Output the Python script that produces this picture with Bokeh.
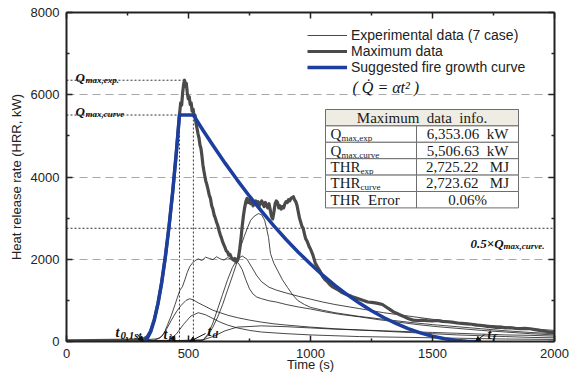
from bokeh.plotting import figure
from bokeh.models import (Legend, LegendItem, LinearAxis, Label, BoxAnnotation,
                          Arrow, NormalHead, FixedTicker)
from bokeh.embed import file_html
from bokeh.resources import INLINE

# ---------------- data ----------------
x_ticks = [0, 500, 1000, 1500, 2000]
x_minor = [250, 750, 1250, 1750]
y_ticks = [0, 2000, 4000, 6000, 8000]
y_minor = [1000, 3000, 5000, 7000]

q_max_exp = 6353.06      # kW
q_max_curve = 5506.63    # kW
thr_exp = 2725.22        # MJ
thr_curve = 2723.62      # MJ
thr_error = 0.06         # %

t_0 = 314     # first ignition (s)
t_1 = 463     # end of growth (s)
t_d = 520     # start of decay (s)
t_f = 1676    # end of decay (s)

# suggested fire growth curve (growth, plateau, decay)
curve_t = [314, 330, 345, 360, 375, 390, 405, 420, 435, 450, 463, 520, 560, 600, 650,
           700, 750, 800, 850, 900, 950, 1000, 1050, 1100, 1150, 1200, 1250, 1300,
           1350, 1400, 1450, 1500, 1550, 1600, 1640, 1676]
curve_q = [0, 63, 238, 525, 923, 1432, 2054, 2787, 3631, 4588, 5506.63, 5506.63, 5132,
           4770, 4337, 3925, 3533, 3162, 2811, 2481, 2172, 1883, 1615, 1367, 1140, 934,
           748, 583, 438, 314, 210, 128, 65, 24, 5, 0]

# maximum case
max_t = [0, 100, 200, 280, 314, 330, 345, 360, 375, 390, 405, 420, 435, 450, 463, 468,
         472, 476, 480, 484, 488, 491, 495, 499, 503, 507, 511, 515, 519, 523, 527, 531,
         535, 539, 543, 547, 551, 555, 559, 563, 567, 571, 575, 580, 585, 590, 595, 600,
         605, 610, 615, 620, 625, 630, 635, 640, 645, 650, 655, 660, 665, 670, 675, 680,
         685, 690, 695, 700, 705, 710, 715, 720, 725, 730, 735, 740, 745, 750, 755, 760,
         765, 770, 775, 780, 785, 790, 795, 800, 805, 810, 815, 820, 825, 830, 835, 840,
         845, 850, 855, 860, 865, 870, 875, 880, 885, 890, 895, 900, 905, 910, 915, 920,
         925, 930, 935, 940, 945, 950, 955, 960, 965, 970, 975, 980, 985, 990, 995, 1000,
         1010, 1020, 1030, 1040, 1050, 1060, 1070, 1080, 1090, 1100, 1115, 1130, 1145,
         1160, 1175, 1190, 1205, 1220, 1235, 1250, 1265, 1280, 1295, 1310, 1325, 1340,
         1355, 1370, 1385, 1400, 1420, 1440, 1460, 1480, 1500, 1520, 1540, 1560, 1580,
         1600, 1620, 1640, 1660, 1680, 1700, 1720, 1740, 1760, 1780, 1800, 1820, 1840,
         1860, 1880, 1900, 1920, 1940, 1960, 1980, 2000]
max_q = [15, 20, 25, 35, 50, 110, 260, 540, 930, 1430, 2050, 2780, 3620, 4580, 5520, 5800,
         5750, 6050, 6250, 6353.06, 6200, 6280, 6050, 5900, 5950, 5760, 5800, 5600, 5650,
         5480, 5500, 5300, 5180, 5050, 4950, 4780, 4700, 4520, 4300, 4150, 4020, 3900,
         3820, 3700, 3560, 3480, 3300, 3220, 3080, 3000, 2900, 2820, 2700, 2600, 2520,
         2420, 2350, 2280, 2200, 2180, 2100, 2120, 2050, 2000, 1980, 2020, 1930, 1960,
         2050, 2250, 2500, 2800, 3050, 3250, 3400, 3480, 3380, 3450, 3350, 3420, 3300,
         3380, 3420, 3340, 3400, 3300, 3360, 3420, 3350, 3280, 3380, 3300, 3250, 3350,
         3200, 3050, 2980, 3150, 3350, 3420, 3380, 3250, 3300, 3220, 3280, 3250, 3350,
         3400, 3380, 3450, 3420, 3480, 3500, 3520, 3440, 3400, 3300, 3150, 3000, 2900,
         2800, 2750, 2620, 2500, 2450, 2380, 2300, 2250, 2100, 1900, 1800, 1700, 1580,
         1500, 1450, 1380, 1330, 1300, 1250, 1190, 1150, 1120, 1080, 1050, 1020, 990,
         960, 950, 940, 920, 900, 840, 780, 720, 680, 640, 600, 560, 520, 510, 520, 505,
         500, 510, 490, 480, 470, 450, 440, 430, 420, 400, 390, 370, 360, 345, 350, 330,
         335, 320, 315, 320, 310, 290, 270, 250, 230, 210]

# other experimental cases
case1_t = [0, 150, 300, 380, 400, 415, 430, 445, 455, 465, 475, 485, 495, 505, 515, 525,
           540, 555, 570, 585, 600, 615, 630, 645, 660, 675, 690, 705, 720, 735, 750, 765,
           780, 800, 830, 860, 900, 950, 1000, 1060, 1120, 1200, 1280, 1360, 1440, 1520,
           1600, 1700, 1800, 1900, 2000]
case1_q = [15, 20, 30, 70, 200, 420, 640, 900, 1080, 1250, 1330, 1500, 1680, 1820, 1900,
           1960, 2010, 1970, 2050, 2020, 1990, 2060, 2010, 1980, 2040, 2000, 1960, 1900,
           1750, 1500, 1280, 1150, 1080, 1040, 990, 960, 900, 840, 790, 720, 660, 600, 530,
           470, 410, 360, 320, 270, 230, 190, 160]

case2_t = [0, 200, 360, 390, 410, 430, 450, 470, 490, 505, 520, 540, 560, 580, 600, 630,
           660, 700, 750, 800, 850, 900, 1000, 1100, 1200, 1300, 1400, 1500, 1600, 1700,
           1800, 1900, 2000]
case2_q = [10, 15, 30, 120, 300, 520, 720, 880, 1000, 1040, 1010, 940, 880, 820, 760, 700,
           640, 580, 520, 470, 430, 400, 350, 310, 280, 250, 220, 190, 160, 140, 120, 100, 90]

case3_t = [0, 300, 420, 450, 480, 510, 540, 570, 600, 630, 660, 700, 750, 800, 900, 1000,
           1100, 1200, 1400, 1600, 1800, 2000]
case3_q = [10, 15, 30, 180, 420, 620, 700, 650, 560, 470, 400, 330, 270, 230, 190, 160,
           140, 120, 100, 80, 60, 50]

case4_t = [0, 400, 560, 580, 600, 620, 640, 660, 684, 700, 713, 728, 742, 755, 770, 787,
           800, 812, 820, 828, 836, 850, 865, 885, 906, 925, 947, 975, 1000, 1050, 1100,
           1200, 1300, 1400, 1500, 1600, 1700, 1800, 1900, 2000]
case4_q = [10, 15, 30, 150, 350, 600, 900, 1250, 1660, 1950, 2290, 2550, 2770, 2950, 3050,
           3110, 3080, 2950, 2750, 2530, 2140, 1900, 1730, 1500, 1313, 1150, 1000, 900, 830,
           760, 700, 610, 540, 470, 410, 360, 310, 260, 220, 190]

case5_t = [0, 400, 560, 580, 600, 620, 640, 660, 680, 700, 720, 740, 760, 780, 800, 830,
           860, 900, 950, 1000, 1050, 1100, 1200, 1300, 1400, 1500, 1600, 1700, 1800, 1900,
           2000]
case5_q = [10, 15, 40, 180, 450, 800, 1150, 1500, 1800, 2000, 2080, 2000, 1800, 1600, 1450,
           1320, 1250, 1180, 1100, 1030, 960, 900, 800, 700, 620, 540, 470, 410, 360, 310,
           270]

case6_t = [0, 550, 600, 650, 700, 800, 900, 1000, 1100, 1200, 1300, 1400, 1500, 1600, 1700,
           1800, 1900, 2000]
case6_q = [10, 20, 120, 260, 350, 380, 360, 330, 300, 280, 260, 240, 220, 200, 180, 160,
           150, 130]

# ---------------- figure ----------------
X0, X1, Y0, Y1 = 0, 2000, 0, 8000
FL, FR, FT, FB = 66, 554, 12, 341   # frame edges in page pixels


def tx(px):
    return X0 + (px - FL) * (X1 - X0) / (FR - FL)


def qy(py):
    return Y0 + (FB - py) * (Y1 - Y0) / (FB - FT)


p = figure(width=569, height=376, x_range=(X0, X1), y_range=(Y0, Y1),
           output_backend="svg", toolbar_location=None,
           min_border_left=FL, min_border_right=569 - FR, min_border_top=FT,
           min_border_bottom=376 - FB,
           x_axis_label="Time (s)", y_axis_label="Heat release rate (HRR, kW)")
p.outline_line_color = None
p.background_fill_color = "white"

p.xgrid.visible = False
p.ygrid.ticker = FixedTicker(ticks=y_ticks)
p.ygrid.grid_line_color = "#a8a8a8"
p.ygrid.grid_line_dash = "8 5"
p.ygrid.grid_line_width = 1

bottom_ax = p.below[0]
left_ax = p.left[0]
top_ax = LinearAxis()
right_ax = LinearAxis()
p.add_layout(top_ax, "above")
p.add_layout(right_ax, "right")

for ax, tk, mn in [(bottom_ax, x_ticks, x_minor), (top_ax, x_ticks, x_minor),
                   (left_ax, y_ticks, y_minor), (right_ax, y_ticks, y_minor)]:
    ax.ticker = FixedTicker(ticks=tk, minor_ticks=mn)
    ax.axis_line_width = 2
    ax.axis_line_color = "#222222"
    ax.major_tick_in = 6
    ax.major_tick_out = 0
    ax.minor_tick_in = 3
    ax.minor_tick_out = 0
    ax.major_tick_line_color = "#222222"
    ax.minor_tick_line_color = "#222222"
    ax.major_tick_line_width = 1.5
    ax.minor_tick_line_width = 1.5
    ax.major_label_text_font = "Liberation Sans"
    ax.major_label_text_font_size = "13px"
    ax.major_label_text_color = "#222222"
    ax.axis_label_text_font = "Liberation Sans"
    ax.axis_label_text_font_size = "13px"
    ax.axis_label_text_font_style = "normal"
    ax.axis_label_text_color = "#222222"

# frame-only axes on top and right: ticks, no labels
for ax in (top_ax, right_ax):
    ax.major_label_text_font_size = "0px"
    ax.major_label_text_color = None
    ax.major_label_standoff = 0
    ax.axis_label = None

bottom_ax.major_label_standoff = 7
bottom_ax.axis_label_standoff = -4
left_ax.major_label_standoff = 7
left_ax.axis_label_standoff = 4

# reference dotted guide lines
dot = dict(line_color="#333333", line_width=1, line_dash="2 2")
p.segment(x0=[X0], y0=[q_max_exp], x1=[max_t[max_q.index(q_max_exp)]], y1=[q_max_exp], **dot)
p.segment(x0=[X0], y0=[q_max_curve], x1=[t_1], y1=[q_max_curve], **dot)
p.segment(x0=[t_1, t_d], y0=[0, 0], x1=[t_1, t_d], y1=[q_max_curve, q_max_curve], **dot)
p.segment(x0=[X0], y0=[0.5 * q_max_curve], x1=[X1], y1=[0.5 * q_max_curve], **dot)

# experimental data
thin = dict(line_color="#1a1a1a", line_width=0.8)
r_exp = None
for ct, cq in [(case1_t, case1_q), (case2_t, case2_q), (case3_t, case3_q),
               (case4_t, case4_q), (case5_t, case5_q), (case6_t, case6_q), (max_t, max_q)]:
    r = p.line(ct, cq, **thin)
    r_exp = r_exp or r

r_max = p.line(max_t, max_q, line_color="#4a4a4a", line_width=3.2, line_join="round")
r_curve = p.line(curve_t, curve_q, line_color="#1c3f9f", line_width=3.5, line_join="round")

legend = Legend(items=[LegendItem(label="Experimental data (7 case)", renderers=[r_exp]),
                       LegendItem(label="Maximum data", renderers=[r_max]),
                       LegendItem(label="Suggested fire growth curve", renderers=[r_curve])],
                location=(241, 266), padding=0, margin=0, spacing=0,
                glyph_width=40, glyph_height=14, label_height=14, label_standoff=4,
                label_text_font="Liberation Sans", label_text_font_size="14px",
                label_text_color="#222222",
                background_fill_alpha=0, border_line_color=None)
p.add_layout(legend)

p.add_layout(Label(x=tx(352), y=qy(87), text="( Q\u0307 = \u03b1t\u00b2 )",
                   text_font="Liberation Serif", text_font_style="italic",
                   text_baseline="middle", text_font_size="16px", text_color="#111111"))


# annotation helpers
def note(px, py, main, sub, w_main, size=13, sub_size=9):
    common = dict(text_font="Liberation Serif", text_font_style="bold italic",
                  text_color="#111111", text_baseline="alphabetic")
    p.add_layout(Label(x=tx(px), y=qy(py), text=main, text_font_size=f"{size}px", **common))
    p.add_layout(Label(x=tx(px), y=qy(py), x_offset=w_main, y_offset=-2, text=sub,
                       text_font_size=f"{sub_size}px", **common))


note(75, 77, "Q", "max,exp.", 10)
note(75, 111, "Q", "max,curve", 10)
note(470, 243, "0.5\u00d7Q", "max,curve.", 33)
note(115, 332, "t", "0,1st", 5, size=14, sub_size=11)
note(163, 334, "t", "i", 5, size=14, sub_size=11)
note(207, 331, "t", "d", 5, size=14, sub_size=11)
note(487, 334, "t", "f", 5, size=14, sub_size=11)

head = dict(size=5, fill_color="#111111", line_color="#111111")
arrows = [((137, 334), (t_0, 0)), ((171, 335), (445, 0)),
          ((205, 333), (t_d - 15, 0)), ((484, 334), (t_f, 0))]
for (sx, sy), (ex, ey) in arrows:
    p.add_layout(Arrow(end=NormalHead(**head), x_start=tx(sx), y_start=qy(sy),
                       x_end=ex, y_end=ey, line_color="#111111", line_width=1))

# summary table
TL, TM, TR, TT, RH = 325, 416, 518, 109, 16.4
rows = [("Q", "max,exp", f"{q_max_exp:,.2f}\u00a0\u00a0kW"),
        ("Q", "max,curve", f"{q_max_curve:,.2f}\u00a0\u00a0kW"),
        ("THR", "exp", f"{thr_exp:,.2f}\u00a0\u00a0\u00a0MJ"),
        ("THR", "curve", f"{thr_curve:,.2f}\u00a0\u00a0\u00a0MJ"),
        ("THR\u00a0\u00a0Error", "", f"{thr_error:.2f}%")]
cell_line = dict(line_color="#6e6e6e", line_width=1, line_alpha=1)
p.add_layout(BoxAnnotation(left=tx(TL), right=tx(TR), top=qy(TT), bottom=qy(TT + RH),
                           fill_color="#efece4", fill_alpha=1, **cell_line))
serif = dict(text_font="Liberation Serif", text_color="#1a1a1a", text_baseline="middle")
p.add_layout(Label(x=tx((TL + TR) / 2), y=qy(TT + RH / 2),
                   text="Maximum\u00a0\u00a0data\u00a0\u00a0info.", text_align="center",
                   text_font_size="15px", **serif))
for i, (lab, sub, val) in enumerate(rows):
    top = TT + RH * (i + 1)
    for l, r in [(TL, TM), (TM, TR)]:
        p.add_layout(BoxAnnotation(left=tx(l), right=tx(r), top=qy(top), bottom=qy(top + RH),
                                   fill_color="white", fill_alpha=1, **cell_line))
    ymid = qy(top + RH / 2)
    p.add_layout(Label(x=tx(TL + 5), y=ymid, text=lab, text_font_size="15px", **serif))
    if sub:
        w = 11 if lab == "Q" else 30
        p.add_layout(Label(x=tx(TL + 5), y=ymid, x_offset=w, y_offset=-4, text=sub,
                           text_font_size="9px", **serif))
    p.add_layout(Label(x=tx((TM + TR) / 2), y=ymid, text=val, text_align="center",
                       text_font_size="15px", **serif))

open("out.html", "w").write(file_html(p, INLINE))
